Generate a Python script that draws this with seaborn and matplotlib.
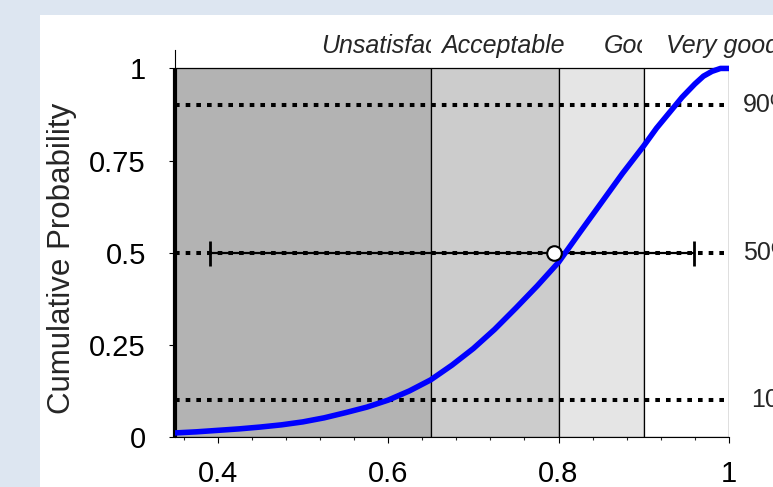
import numpy as np
import matplotlib
matplotlib.use('Agg')
import matplotlib.pyplot as plt
import seaborn as sns
from matplotlib.transforms import Bbox, TransformedBbox
from matplotlib.ticker import FixedLocator

# ===== data ==================================================================

band_edges  = [0.35, 0.65, 0.80, 0.90, 1.00]
band_names  = ['Unsatisfactory', 'Acceptable', 'Good', 'Very good']
band_colors = ['#b3b3b3', '#cccccc', '#e5e5e5', '#ffffff']

# cumulative probability curve
cdf_x = [0.35, 0.375, 0.40, 0.425, 0.45, 0.475, 0.50, 0.525, 0.55, 0.575,
         0.60, 0.625, 0.65, 0.675, 0.70, 0.725, 0.75, 0.775, 0.80, 0.825,
         0.85, 0.875, 0.90, 0.915, 0.93, 0.945, 0.96, 0.97, 0.98, 0.99, 1.00]
cdf_y = [0.011, 0.014, 0.018, 0.022, 0.027, 0.033, 0.041, 0.052, 0.066, 0.081,
         0.100, 0.125, 0.155, 0.195, 0.240, 0.292, 0.350, 0.410, 0.474, 0.555,
         0.635, 0.715, 0.790, 0.838, 0.880, 0.922, 0.958, 0.979, 0.992, 1.0, 1.0]

pct_levels = [0.1, 0.5, 0.9]
pct_labels = ['10%', '50%', '90%']

est_median = 0.795
est_low    = 0.391
est_high   = 0.959

# ===== style =================================================================

sns.set_style('ticks')
plt.rcParams['font.family'] = ['Liberation Sans', 'DejaVu Sans']

W, H = 773, 487
fig = plt.figure(figsize=(W / 100, H / 100), dpi=100, facecolor='#dde6f1')
fig.patches.append(plt.Rectangle((40 / W, 0), 1, 1 - 15 / H,
                                 transform=fig.transFigure,
                                 facecolor='white', edgecolor='none', zorder=-5))

ax = fig.add_axes([175 / W, 50 / H, (729 - 175) / W, (437 - 50) / H])
ax.set_facecolor('white')

# ===== rating bands ==========================================================

ax.bar(band_edges[:-1], [1] * len(band_names), width=np.diff(band_edges),
       align='edge', color=band_colors, edgecolor='black', linewidth=0.9, zorder=1)
ax.plot([band_edges[0], band_edges[0]], [0, 1], color='black', lw=3,
        solid_capstyle='butt', clip_on=False, zorder=2)

# band names sit above the bands, each clipped to its own band
label_left  = [0.522, 0.662, 0.8535, 0.9265]
label_right = [0.65, 0.806, 0.898, 1.3]
for name, x_txt, x0, x1 in zip(band_names, label_left, band_edges[:-1], label_right):
    t = ax.text(x_txt, 1.043, name, fontsize=18, fontstyle='italic',
                ha='left', va='baseline')
    t.set_clip_box(TransformedBbox(Bbox([[x0, 0], [x1, 1.3]]), ax.transData))
    t.set_clip_on(True)

# ===== percentile lines ======================================================

ax.hlines(pct_levels, band_edges[0], band_edges[-1], colors='black',
          linewidth=2.9, linestyles=(0, (1.15, 1.5)), zorder=2)
for lev, lab in zip(pct_levels, pct_labels):
    xl = 1.026 if lab == '10%' else 1.016
    ax.text(xl, lev, lab, fontsize=18, ha='left', va='center', clip_on=False)

ax.errorbar([est_median], [0.5],
            xerr=[[est_median - est_low], [est_high - est_median]],
            fmt='none', ecolor='black', elinewidth=1.6, capsize=9, capthick=2,
            zorder=3)

sns.lineplot(x=cdf_x, y=cdf_y, ax=ax, color='blue', linewidth=4, sort=False,
             zorder=4)

ax.plot([est_median], [0.5], marker='o', ms=10.5, mfc='white', mec='black',
        mew=1.5, zorder=5)

# ===== axes ==================================================================

ax.set_xlim(0.35, 1.0)
ax.set_ylim(0, 1.05)
ax.set_xticks([0.4, 0.6, 0.8, 1.0])
ax.set_xticklabels(['0.4', '0.6', '0.8', '1'])
ax.xaxis.set_minor_locator(FixedLocator(np.arange(0.36, 1.001, 0.04)))
ax.set_yticks([0, 0.25, 0.5, 0.75, 1])
ax.set_yticklabels(['0', '0.25', '0.5', '0.75', '1'])

ax.tick_params(axis='x', which='major', direction='out', length=4.5, width=0.8,
               labelsize=21, pad=12, colors='black')
ax.tick_params(axis='x', which='minor', direction='out', length=2.5, width=0.8)
ax.tick_params(axis='y', direction='out', length=4, width=0.8,
               labelsize=21, pad=17, colors='black')
sns.despine(ax=ax)
for s in ['left', 'bottom']:
    ax.spines[s].set_linewidth(0.8)
    ax.spines[s].set_color('black')

fig.text(62 / W, 1 - 258 / H, 'Cumulative Probability', rotation=90,
         fontsize=22.5, ha='center', va='center')

fig.savefig('out.png', dpi=100, facecolor=fig.get_facecolor())
